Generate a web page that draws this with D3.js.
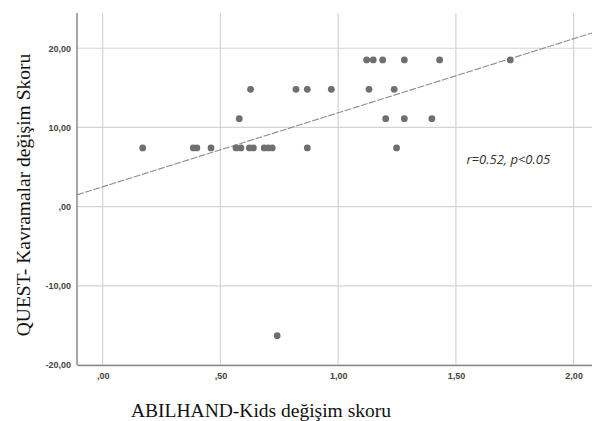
<!DOCTYPE html>
<html>
<head>
<meta charset="utf-8">
<script src="https://cdn.jsdelivr.net/npm/d3@7"></script>
<style>
  body { margin: 0; background: #fff; }
  svg { display: block; }
</style>
</head>
<body>
<div id="chart"></div>
<script>
// Data: ABILHAND-Kids change (x) vs QUEST grasp change (y)
const abilhand = [
  0.17, 0.385, 0.40, 0.46, 0.566, 0.587, 0.623, 0.640, 0.686, 0.703, 0.720, 0.869, 1.248,
  0.58, 1.202, 1.281, 1.398,
  0.628, 0.821, 0.869, 0.971, 1.131, 1.238,
  1.121, 1.149, 1.189, 1.281, 1.431, 1.731,
  0.741
];
const quest = [
  7.41, 7.41, 7.41, 7.41, 7.41, 7.41, 7.41, 7.41, 7.41, 7.41, 7.41, 7.41, 7.41,
  11.11, 11.11, 11.11, 11.11,
  14.81, 14.81, 14.81, 14.81, 14.81, 14.81,
  18.52, 18.52, 18.52, 18.52, 18.52, 18.52,
  -16.3
];
const xTicks = [0, 0.5, 1.0, 1.5, 2.0];
const yTicks = [-20, -10, 0, 10, 20];
const fitLine = { intercept: 2.5, slope: 9.35 };   // fit line
const note = "r=0.52, p<0.05";

const W = 592, H = 421;
const plot = { left: 77, top: 13, right: 592, bottom: 365 };

const svg = d3.select("#chart").append("svg")
  .attr("width", W)
  .attr("height", H);

const x = d3.scaleLinear().domain([-0.109, 2.078]).range([plot.left, plot.right]);
const y = d3.scaleLinear().domain([-20, 24.45]).range([plot.bottom, plot.top]);

// comma decimal labels like SPSS: ",00", "1,50", "-10,00"
const fmt = d => {
  const s = d3.format(".2f")(d).replace(".", ",").replace("−", "-");
  return s.replace(/^0,/, ",").replace(/^-0,/, "-,");
};

// gridlines
svg.append("g")
  .selectAll("line")
  .data(xTicks)
  .enter()
  .append("line")
  .attr("x1", d => x(d)).attr("x2", d => x(d))
  .attr("y1", plot.top).attr("y2", plot.bottom)
  .attr("stroke", "#d4d4d4")
  .attr("stroke-width", 1.2);

svg.append("g")
  .selectAll("line")
  .data(yTicks)
  .enter()
  .append("line")
  .attr("x1", plot.left).attr("x2", plot.right)
  .attr("y1", d => y(d)).attr("y2", d => y(d))
  .attr("stroke", "#d4d4d4")
  .attr("stroke-width", 1.2);

// axes (no tick marks, just the lines and labels)
const xAxis = svg.append("g")
  .attr("transform", `translate(0,${plot.bottom})`)
  .call(d3.axisBottom(x).tickValues(xTicks).tickFormat(fmt).tickSize(0).tickPadding(8));
const yAxis = svg.append("g")
  .attr("transform", `translate(${plot.left},0)`)
  .call(d3.axisLeft(y).tickValues(yTicks).tickFormat(fmt).tickSize(0).tickPadding(6));

[xAxis, yAxis].forEach(g => {
  g.select(".domain").attr("stroke", "#8a8a8a").attr("stroke-width", 1.5);
  g.selectAll("text")
    .attr("fill", "#444")
    .style("font-family", "'Liberation Sans', Arial, sans-serif")
    .style("font-size", "9px")
    .style("font-weight", "bold");
});
yAxis.select(".domain").attr("d", `M0,${plot.top}V${plot.bottom}`);

// regression line across the whole plot
const line = d3.line().x(d => x(d)).y(d => y(fitLine.intercept + fitLine.slope * d));
svg.append("path")
  .datum(x.domain())
  .attr("fill", "none")
  .attr("stroke", "#8c8c8c")
  .attr("stroke-width", 1.1)
  .attr("stroke-dasharray", "7,1.5")
  .attr("d", line);

// points
svg.append("g")
  .selectAll("circle")
  .data(abilhand.map((v, i) => [v, quest[i]]))
  .enter()
  .append("circle")
  .attr("cx", d => x(d[0]))
  .attr("cy", d => y(d[1]))
  .attr("r", 3.4)
  .attr("fill", "#6f6f6f");

// annotation
svg.append("text")
  .attr("x", x(1.545))
  .attr("y", y(5.4))
  .text(note)
  .attr("fill", "#333")
  .style("font-family", "'Open Sans', 'Liberation Sans', sans-serif")
  .style("font-style", "italic")
  .style("font-size", "13px");

// axis titles
svg.append("text")
  .attr("x", 261)
  .attr("y", 417)
  .attr("text-anchor", "middle")
  .text("ABILHAND-Kids değişim skoru")
  .style("font-family", "'Liberation Serif', 'Times New Roman', serif")
  .style("font-size", "19.5px")
  .attr("fill", "#111");

svg.append("text")
  .attr("transform", "translate(30,195) rotate(-90)")
  .attr("text-anchor", "middle")
  .text("QUEST- Kavramalar değişim Skoru")
  .style("font-family", "'Liberation Serif', 'Times New Roman', serif")
  .style("font-size", "19.5px")
  .attr("fill", "#111");
</script>
</body>
</html>
